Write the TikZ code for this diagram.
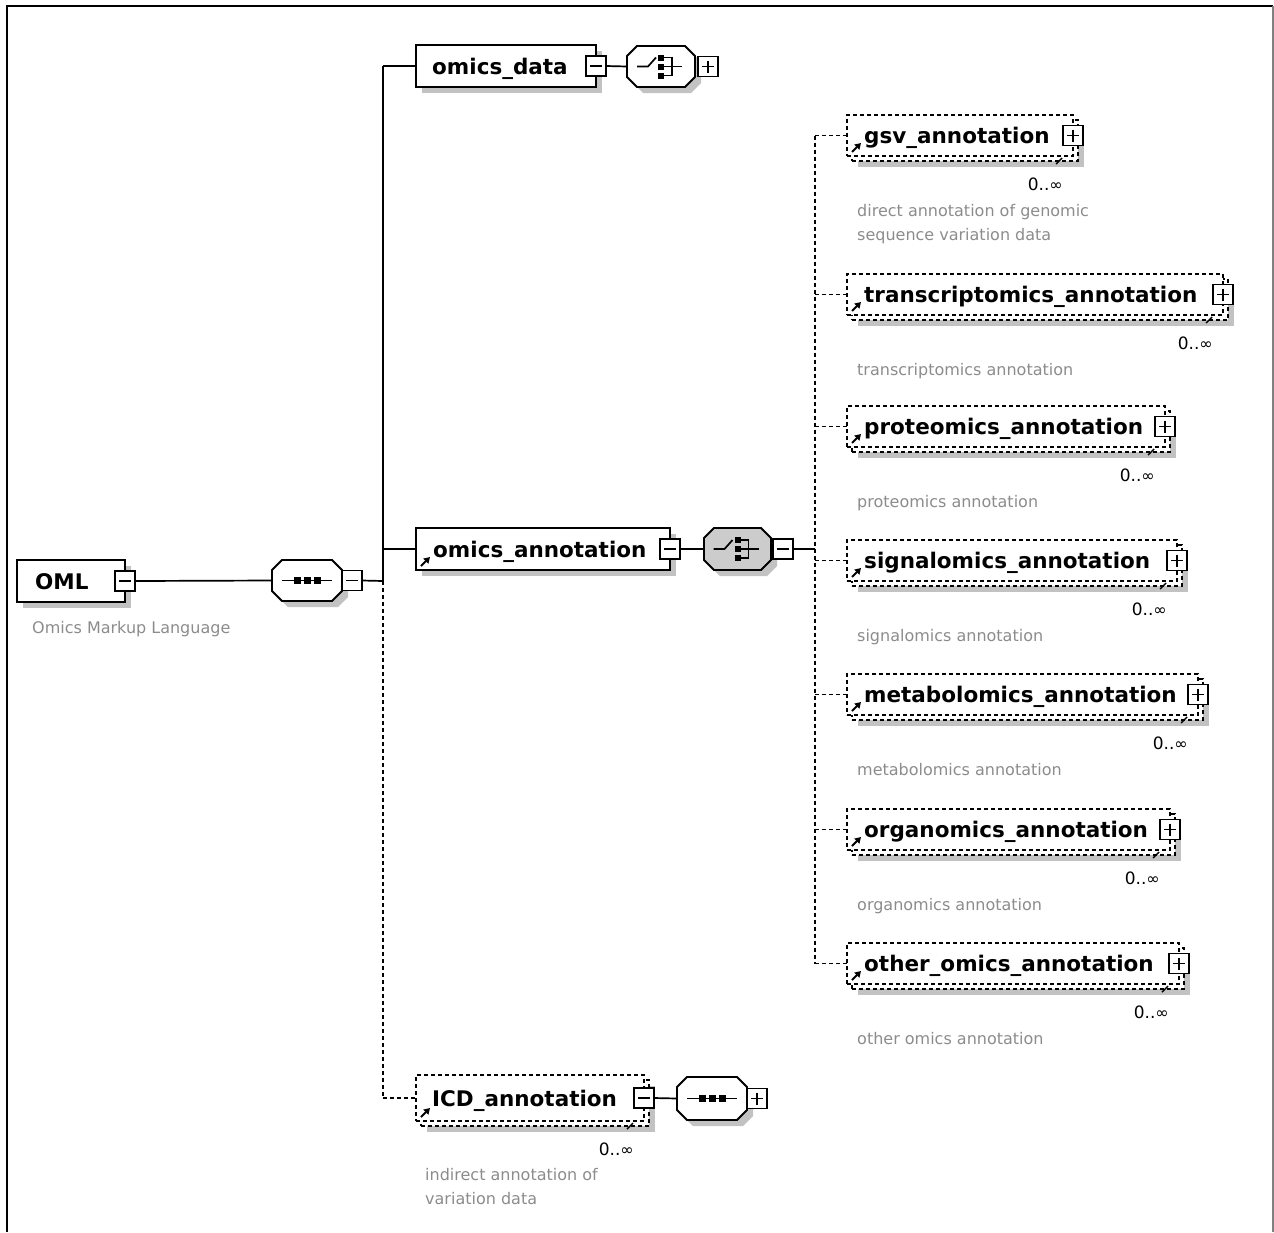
\documentclass[tikz,border=0pt]{standalone}
\usepackage{fontspec}
\setmainfont{DejaVu Sans}
\usetikzlibrary{shadows,calc,arrows.meta}

% infinity sign for occurrence labels
\newcommand{\infsym}{{\fontsize{16}{16}\selectfont ∞}}

% reference arrow in the lower left corner of an element box
\newcommand{\refarrow}[1]{%
  \draw[line width=2pt,-{Triangle[length=6pt,width=7pt]}]
    ($(#1.south west)+(5,-4)$) -- ($(#1.south west)+(14,-13)$);}

% chamfered compositor box: name, x, y, width, height, fill
\newcommand{\compo}[6]{%
  \node[inner sep=0,outer sep=0,minimum width=#4pt,minimum height=#5pt,anchor=north west] (#1) at (#2,#3) {};
  \begin{scope}[shift={(#2,#3)}]
    \fill[black!24] (16,6) -- ({#4-4},6) -- ({#4+6},16) -- ({#4+6},{#5-4}) -- ({#4-4},{#5+6})
      -- (16,{#5+6}) -- (6,{#5-4}) -- (6,16) -- cycle;
    \draw[line width=1.9pt,fill=#6] (10,0) -- ({#4-10},0) -- (#4,10) -- (#4,{#5-10})
      -- ({#4-10},#5) -- (10,#5) -- (0,{#5-10}) -- (0,10) -- cycle;
  \end{scope}}

% sequence symbol
\newcommand{\seqicon}[1]{%
  \draw[sline] ($(#1.center)+(-25,0)$) -- ($(#1.center)+(25,0)$);
  \foreach \d in {-10,0,10}
    \fill ($(#1.center)+(\d-3.5,-3.5)$) rectangle ($(#1.center)+(\d+3.5,3.5)$);}

% choice symbol
\newcommand{\choiceicon}[1]{%
  \draw[sline] ($(#1.center)+(-24,0)$) -- ($(#1.center)+(-13,0)$) -- ($(#1.center)+(-5,-9)$);
  \foreach \d in {-9,0,9} {
    \fill ($(#1.center)+(-3,\d-3)$) rectangle ($(#1.center)+(3,\d+3)$);
    \draw[sline] ($(#1.center)+(3,\d)$) -- ($(#1.center)+(11,\d)$);}
  \draw[sline] ($(#1.center)+(11,-9.8)$) -- ($(#1.center)+(11,9.8)$);
  \draw[sline] ($(#1.center)+(11,0)$) -- ($(#1.center)+(21,0)$);}

% optional, repeatable child element of the annotation choice
\newcommand{\child}[5]{%
  \node[delbox,shadowed,minimum width=#3pt,minimum height=41pt] (#1b) at (852,{#2+5}) {};
  \node[delbox,minimum width=#3pt,minimum height=41pt] (#1) at (847,#2) {};
  \draw[line width=1.4pt] ($(#1.south east)+(-17,8)$) -- ($(#1.south east)+(-11,2)$);
  \node[xplus] (#1x) at (#1.east) {};
  \node[lbl] (#1l) at ($(#1.west)+(17,8)$) {#4};
  \refarrow{#1}
  \node[occ] (#1o) at ($(#1.south east)+(-10,34)$) {0..\infsym};
  \node[desc] (#1d) at ($(#1.south west)+(10,60)$) {#5};
  \draw[dline] (trunkB |- #1.west) -- (#1.west);}

\begin{document}
\begin{tikzpicture}[x=1pt,y=-1pt,
  sline/.style={line width=1.7pt},
  dline/.style={line width=1.7pt,dash pattern=on 4pt off 3pt},
  shadowed/.style={drop shadow={shadow xshift=6pt,shadow yshift=-6pt,fill=black!24,opacity=1}},
  elbox/.style={draw,fill=white,line width=1.9pt,inner sep=0,outer sep=0,anchor=north west},
  delbox/.style={elbox,dash pattern=on 4pt off 3pt},
  lbl/.style={font=\fontsize{21.5}{24}\selectfont\bfseries,inner sep=0,anchor=base west},
  desc/.style={font=\fontsize{16}{20}\selectfont,text=black!45,inner sep=0,anchor=base west},
  occ/.style={font=\fontsize{17}{20}\selectfont,inner sep=0,anchor=base east},
  xbox/.style={draw,fill=white,line width=1.6pt,minimum size=20pt,inner sep=0,outer sep=0},
  xminus/.style={xbox,path picture={\draw[line width=1.6pt]
      ([xshift=4pt]path picture bounding box.west) -- ([xshift=-4pt]path picture bounding box.east);}},
  xplus/.style={xbox,path picture={\draw[line width=1.6pt]
      ([xshift=4pt]path picture bounding box.west) -- ([xshift=-4pt]path picture bounding box.east)
      ([yshift=-4pt]path picture bounding box.north) -- ([yshift=4pt]path picture bounding box.south);}},
]
\useasboundingbox (0,0) rectangle (1274,1232);

% frame
\draw[line width=1.8pt] (7,1232) -- (7,6) -- (1273,6);
\draw[line width=1.8pt,black!50] (1273,6) -- (1273,1232);

% root element
\node[elbox,shadowed,minimum width=108pt,minimum height=42pt] (oml) at (17,560) {};
\node[xminus] (omlx) at (oml.east) {};
\node[lbl] (omll) at ($(oml.west)+(18,8)$) {OML};
\node[desc] (omld) at ($(oml.south west)+(15,31)$) {Omics Markup Language};

% top-level sequence
\compo{seqA}{272}{560}{70}{41}{white}
\seqicon{seqA}
\node[xminus,anchor=west] (seqAx) at (seqA.east) {};
\draw[sline] (omlx.east) -- (seqA.west);
\coordinate (trunkA) at (383,581);
\draw[sline] (seqAx.east) -- (trunkA);

% omics_data
\node[elbox,shadowed,minimum width=180pt,minimum height=42pt] (od) at (416,45) {};
\node[xminus] (odx) at (od.east) {};
\node[lbl] (odl) at ($(od.west)+(16,8)$) {omics\_data};
\compo{chA}{627}{46}{68}{41}{white}
\choiceicon{chA}
\node[xplus,anchor=west] (chAx) at ([xshift=3pt]chA.east) {};
\draw[sline] (odx.east) -- (chA.west);

% omics_annotation
\node[elbox,shadowed,minimum width=254pt,minimum height=42pt] (oa) at (416,528) {};
\node[xminus] (oax) at (oa.east) {};
\node[lbl] (oal) at ($(oa.west)+(17,8)$) {omics\_annotation};
\refarrow{oa}
\compo{chB}{704}{528}{67}{42}{black!20}
\choiceicon{chB}
\node[xminus,anchor=west] (chBx) at ([xshift=2pt]chB.east) {};
\draw[sline] (oax.east) -- (chB.west);
\coordinate (trunkB) at (815,549);
\draw[sline] (chBx.east) -- (trunkB);

% ICD_annotation
\node[delbox,shadowed,minimum width=228pt,minimum height=46pt] (icdb) at (421,1080) {};
\node[delbox,minimum width=228pt,minimum height=46pt] (icd) at (416,1075) {};
\draw[line width=1.4pt] ($(icd.south east)+(-17,8)$) -- ($(icd.south east)+(-11,2)$);
\node[xminus] (icdx) at (icd.east) {};
\node[lbl] (icdl) at ($(icd.west)+(16,8)$) {ICD\_annotation};
\refarrow{icd}
\node[occ] (icdo) at ($(icd.south east)+(-10,34)$) {0..\infsym};
\node[desc] (icdd) at ($(icd.south west)+(9,59)$) {indirect annotation of};
\node[desc] (icdd2) at ($(icd.south west)+(9,83)$) {variation data};
\compo{seqB}{677}{1077}{70}{43}{white}
\seqicon{seqB}
\node[xplus,anchor=west] (seqBx) at (seqB.east) {};
\draw[sline] (icdx.east) -- (seqB.west);

% trunk of the top-level sequence
\draw[sline] (trunkA |- od.west) -- (trunkA);
\draw[dline] (trunkA) -- (trunkA |- icd.west);
\draw[sline] (trunkA |- od.west) -- (od.west);
\draw[sline] (trunkA |- oa.west) -- (oa.west);
\draw[dline] (trunkA |- icd.west) -- (icd.west);

% children of the annotation choice
\child{gsv}{115}{226}{gsv\_annotation}{direct annotation of genomic}
\node[desc] (gsvd2) at ($(gsv.south west)+(10,84)$) {sequence variation data};
\child{trc}{274}{376}{transcriptomics\_annotation}{transcriptomics annotation}
\child{prt}{406}{318}{proteomics\_annotation}{proteomics annotation}
\child{sig}{540}{330}{signalomics\_annotation}{signalomics annotation}
\child{met}{674}{351}{metabolomics\_annotation}{metabolomics annotation}
\child{org}{809}{323}{organomics\_annotation}{organomics annotation}
\child{oth}{943}{332}{other\_omics\_annotation}{other omics annotation}
\draw[dline] (trunkB |- gsv.west) -- (trunkB |- oth.west);

\end{tikzpicture}
\end{document}
